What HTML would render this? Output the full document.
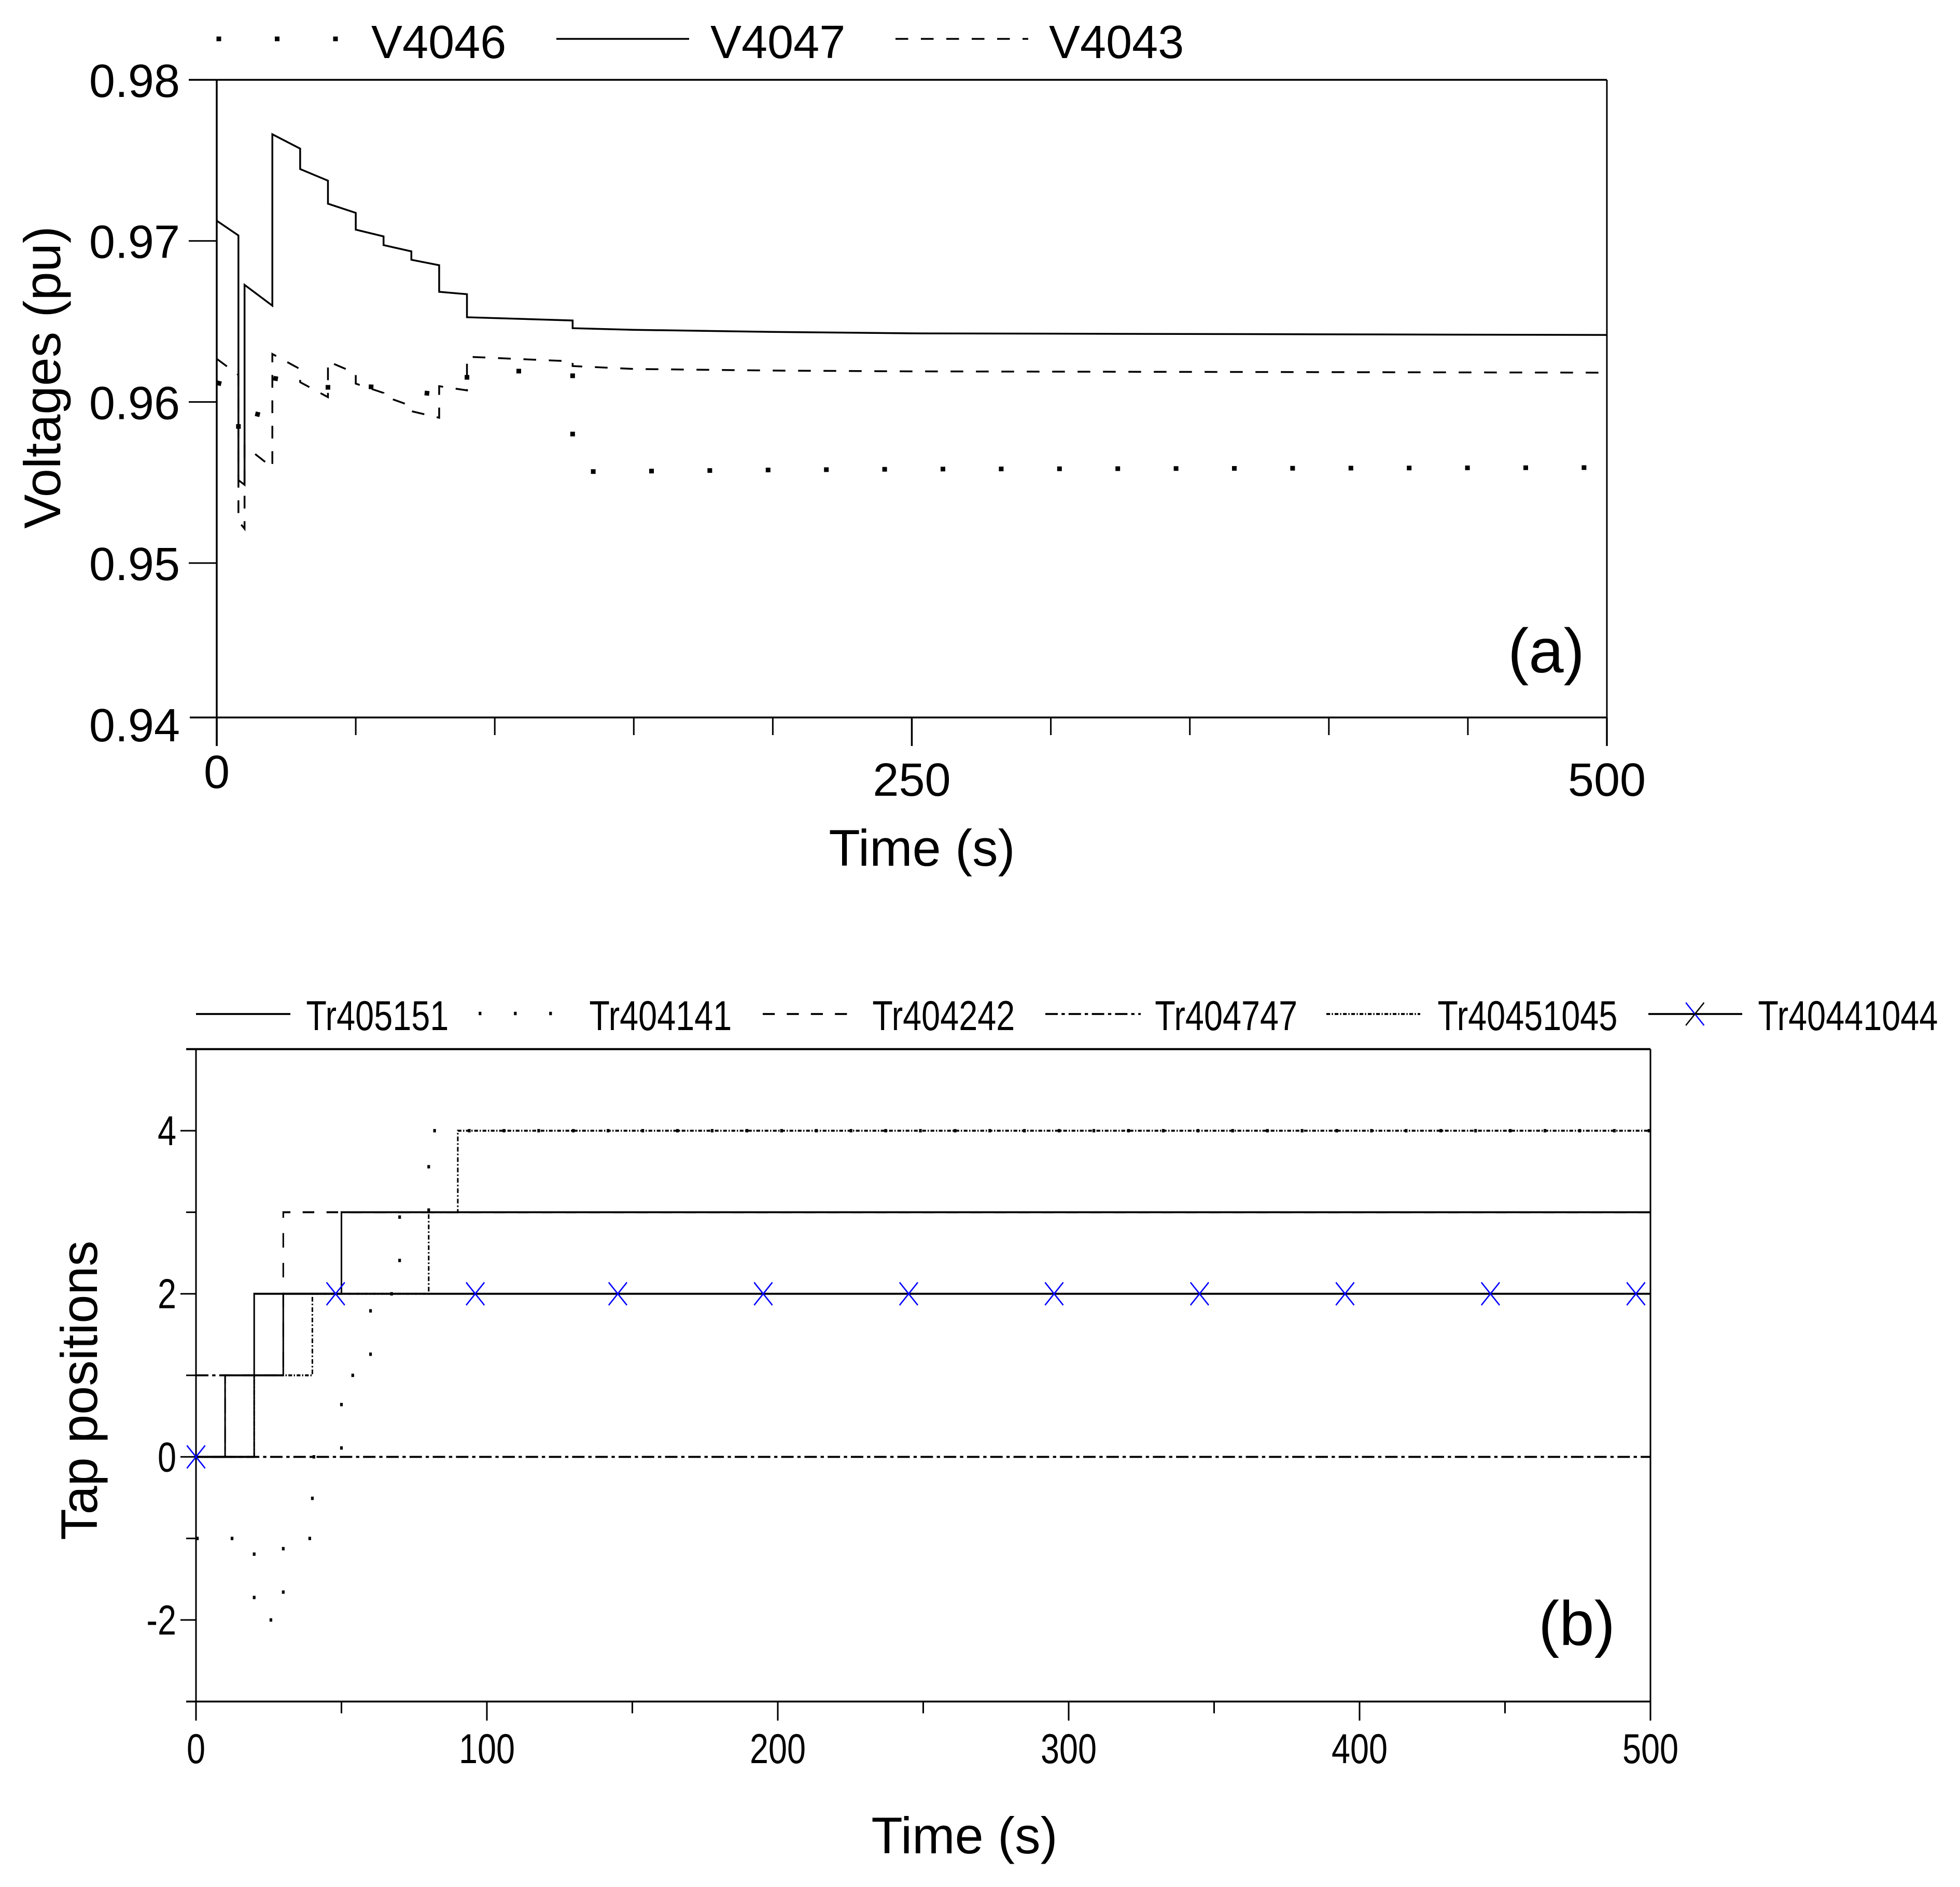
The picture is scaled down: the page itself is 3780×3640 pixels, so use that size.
<!DOCTYPE html>
<html lang="en">
<head>
<meta charset="utf-8">
<title>Voltages and tap positions</title>
<style>
html,body{margin:0;padding:0;background:#fff;}
svg{display:block;}
text{font-family:"Liberation Sans",Arial,sans-serif;fill:#000;}
</style>
</head>
<body>
<svg id="figure" xmlns="http://www.w3.org/2000/svg" width="3780" height="3640" viewBox="0 0 3780 3640">
  <rect x="0" y="0" width="3780" height="3640" fill="#fff"/>

  <g id="panelA">
    <g>
      <line x1="417.5" y1="75" x2="652" y2="75" stroke="#000" stroke-width="9" stroke-dasharray="9 103.5"/>
      <text x="716" y="112" font-size="90">V4046</text>
      <line x1="1073" y1="75" x2="1329" y2="75" stroke="#000" stroke-width="3.5"/>
      <text x="1370" y="112" font-size="90">V4047</text>
      <line x1="1727" y1="75" x2="1983" y2="75" stroke="#000" stroke-width="3.5" stroke-dasharray="24.5 24.5"/>
      <text x="2023" y="112" font-size="90">V4043</text>
    </g>
    <text x="1778" y="1670" font-size="99" text-anchor="middle">Time (s)</text>
    <text transform="translate(116,728) rotate(-90)" font-size="99" text-anchor="middle">Voltages (pu)</text>
    <text x="2908" y="1297" font-size="121">(a)</text>
  </g>

  <g id="panelB">
    <g id="panelBScaled" transform="scale(0.8,1)">
      <g>
        <line x1="472.5" y1="1956" x2="700" y2="1956" stroke="#000" stroke-width="3.8"/>
        <text x="738" y="1987" font-size="81">Tr405151</text>
        <line x1="1154" y1="1955" x2="1335" y2="1955" stroke="#000" stroke-width="6.5" stroke-dasharray="6.5 78.5"/>
        <text x="1420.5" y="1987" font-size="81">Tr404141</text>
        <line x1="1838.75" y1="1956" x2="2065" y2="1956" stroke="#000" stroke-width="3.8" stroke-dasharray="29 29"/>
        <text x="2103" y="1987" font-size="81">Tr404242</text>
        <line x1="2520" y1="1956" x2="2750" y2="1956" stroke="#000" stroke-width="3.8" stroke-dasharray="30 9 8 9"/>
        <text x="2784" y="1987" font-size="81">Tr404747</text>
        <line x1="3197.5" y1="1956" x2="3423.75" y2="1956" stroke="#000" stroke-width="3.8" stroke-dasharray="9 4 3 4"/>
        <text x="3465.5" y="1987" font-size="81">Tr40451045</text>
        <line x1="3973.75" y1="1956" x2="4200" y2="1956" stroke="#000" stroke-width="3.8"/>
        <line x1="4064" y1="1934" x2="4108" y2="1978" stroke="#00f" stroke-width="3"/>
        <line x1="4108" y1="1934" x2="4064" y2="1978" stroke="#000" stroke-width="3"/>
        <text x="4238" y="1987" font-size="81">Tr40441044</text>
      </g>
    </g>
    <text x="1860" y="3575" font-size="99" text-anchor="middle">Time (s)</text>
    <text transform="translate(187,2682) rotate(-90)" font-size="99" text-anchor="middle">Tap positions</text>
    <text x="2967" y="3173" font-size="121">(b)</text>
  </g>
</svg>

<script>
// ---- Panel (a) data ----
const voltageTimes = [0,7.8,7.8,10,10,20,20,30,30,40,40,50,50,60,60,70,70,80,80,90,90,128,128,150,200,250,500];
const v4047Values = [0.97125,0.97034,0.95515,0.95486,0.96727,0.96598,0.97662,0.97573,0.97446,0.97374,0.97231,0.97174,0.97070,0.97028,0.96974,0.96935,0.96883,0.96849,0.96684,0.96669,0.96526,0.96506,0.96458,0.96448,0.96435,0.96426,0.96416];
const v4043Values = [0.96268,0.96168,0.9526,0.95213,0.95728,0.95593,0.96298,0.96204,0.96123,0.96030,0.96252,0.96178,0.96114,0.96056,0.96037,0.95975,0.95943,0.95902,0.96098,0.96072,0.96281,0.96252,0.96223,0.96205,0.96195,0.9619,0.96182];
const v4046Values = [0.9612,0.96085,0.95782,0.9577,0.95943,0.95902,0.96149,0.9612,0.96108,0.96072,0.96156,0.96124,0.96098,0.96091,0.96079,0.96067,0.96065,0.96046,0.96075,0.96069,0.96193,0.9619,0.95567,0.9557,0.95578,0.95583,0.95593];
const voltageTickValues = [0.98,0.97,0.96,0.95,0.94];
const voltageTickLabels = ["0.98","0.97","0.96","0.95","0.94"];
const timeMajorTicksA = [0,250,500];
const timeMinorTicksA = [50,100,150,200,300,350,400,450];

// ---- Panel (b) data ----
const tr405151Times = [0,20,20,50,50,500];
const tr405151Values = [0,0,2,2,3,3];
const tr404141Times = [0,20,20,30,30,40,40,50,50,60,60,70,70,80,80,500];
const tr404141Values = [-1,-1,-2,-2,-1,-1,0,0,1,1,2,2,3,3,4,4];
const tr404242Times = [0,10,10,30,30,500];
const tr404242Values = [0,0,1,1,3,3];
const tr404747Times = [0,10,10,500];
const tr404747Values = [1,1,0,0];
const tr40451045Times = [0,20,20,40,40,80,80,90,90,500];
const tr40451045Values = [0,0,1,1,2,2,3,3,4,4];
const tr40441044Times = [0,10,10,30,30,500];
const tr40441044Values = [0,0,1,1,2,2];
const tr40441044MarkerTimes = [0,48,96,145,195,245,295,345,395,445,495];
const tr40441044MarkerValues = [0,2,2,2,2,2,2,2,2,2,2];
const tapMajorTicks = [4,2,0,-2];
const tapMajorLabels = ["4","2","0","-2"];
const tapMinorTicks = [5,3,1,-1,-3];
const timeMajorTicksB = [0,100,200,300,400,500];
const timeMinorTicksB = [50,150,250,350,450];

const NS = "http://www.w3.org/2000/svg";
const panelA = document.getElementById("panelA");
const panelB = document.getElementById("panelBScaled");

// axis functions
function xA(t){ return 418 + 5.362 * t; }
function yA(v){ return 154 + (0.98 - v) * 31070; }
const B_SCALE = 0.8;
function xB(t){ return (378 + 5.61 * t) / B_SCALE; }
function yB(p){ return 2810.3 - 157.3 * p; }

function addLine(parent, name, x1, y1, x2, y2, width, color){
  const el = document.createElementNS(NS, "line");
  
  
  el.setAttribute("x1", x1);
  el.setAttribute("y1", y1);
  el.setAttribute("x2", x2);
  el.setAttribute("y2", y2);
  el.setAttribute("stroke", color || "#000");
  el.setAttribute("stroke-width", width);
  parent.appendChild(el);
  return el;
}
function addText(parent, name, x, y, size, anchor, content){
  const el = document.createElementNS(NS, "text");
  
  
  el.setAttribute("x", x);
  el.setAttribute("y", y);
  el.setAttribute("font-size", size);
  el.setAttribute("text-anchor", anchor);
  el.textContent = content;
  parent.appendChild(el);
  return el;
}
function addSeries(parent, name, times, values, xf, yf, width, dash, dashOffset){
  const el = document.createElementNS(NS, "path");
  
  
  let d = "";
  for (let i = 0; i < times.length; i++) {
    d += (i ? "L" : "M") + xf(times[i]).toFixed(2) + " " + yf(values[i]).toFixed(2);
  }
  el.setAttribute("d", d);
  el.setAttribute("fill", "none");
  el.setAttribute("stroke", "#000");
  el.setAttribute("stroke-width", width);
  el.setAttribute("stroke-linejoin", "miter");
  if (dash) el.setAttribute("stroke-dasharray", dash);
  if (dashOffset) el.setAttribute("stroke-dashoffset", dashOffset);
  parent.appendChild(el);
  return el;
}

// ---- Panel (a) ----
const A_BOTTOM = 1384, A_RIGHT = xA(500);
addLine(panelA, "plot-a-top-border", 364, 154, A_RIGHT, 154, 3.5);
addLine(panelA, "plot-a-bottom-axis", 366, A_BOTTOM, A_RIGHT, A_BOTTOM, 3.5);
addLine(panelA, "plot-a-left-axis", 418, 154, 418, 1439, 3.5);
addLine(panelA, "plot-a-right-border", A_RIGHT, 154, A_RIGHT, 1439, 3);
voltageTickValues.forEach(function(v, i){
  const labelY = yA(v) + 33;
  if (v > 0.94 && v < 0.98) {
    addLine(panelA, "y-tick-a", 364, yA(v), 418, yA(v), 3);
  }
  addText(panelA, "y-tick-label-a", 347, labelY, 90, "end", voltageTickLabels[i]);
});
timeMajorTicksA.forEach(function(t){
  const labelY = t === 0 ? 1520 : 1535;
  addText(panelA, "x-tick-label-a", xA(t), labelY, 90, "middle", String(t));
  addLine(panelA, "x-major-tick-a", xA(t), A_BOTTOM, xA(t), 1439, 3.5);
});
timeMinorTicksA.forEach(function(t){
  addLine(panelA, "x-minor-tick-a", xA(t), A_BOTTOM, xA(t), 1418, 3);
});
addSeries(panelA, "series-v4046", voltageTimes, v4046Values, xA, yA, 9, "9 103.4");
addSeries(panelA, "series-v4047", voltageTimes, v4047Values, xA, yA, 3.5);
addSeries(panelA, "series-v4043", voltageTimes, v4043Values, xA, yA, 3.5, "24.5 24.5");

// ---- Panel (b) ----
const B_LEFT = xB(0), B_RIGHT = xB(500), B_TOP = yB(5), B_BOTTOM = yB(-3);
addLine(panelB, "plot-b-top-border", 359 / B_SCALE, B_TOP, B_RIGHT, B_TOP, 4);
addLine(panelB, "plot-b-bottom-axis", 359 / B_SCALE, B_BOTTOM, B_RIGHT, B_BOTTOM, 3.5);
addLine(panelB, "plot-b-left-axis", B_LEFT, B_TOP, B_LEFT, 3319, 3.8);
addLine(panelB, "plot-b-right-border", B_RIGHT, B_TOP, B_RIGHT, 3319, 3.8);
tapMajorTicks.forEach(function(p, i){
  addLine(panelB, "y-major-tick-b", 348 / B_SCALE, yB(p), B_LEFT, yB(p), 3);
  addText(panelB, "y-tick-label-b", 340 / B_SCALE, yB(p) + 28, 81, "end", tapMajorLabels[i]);
});
tapMinorTicks.forEach(function(p){
  addLine(panelB, "y-minor-tick-b", 359 / B_SCALE, yB(p), B_LEFT, yB(p), 3);
});
timeMajorTicksB.forEach(function(t){
  addLine(panelB, "x-major-tick-b", xB(t), B_BOTTOM, xB(t), 3319, 3.8);
  addText(panelB, "x-tick-label-b", xB(t), 3401, 81, "middle", String(t));
});
timeMinorTicksB.forEach(function(t){
  addLine(panelB, "x-minor-tick-b", xB(t), B_BOTTOM, xB(t), 3305, 3.8);
});
addSeries(panelB, "series-tr404141", tr404141Times, tr404141Values, xB, yB, 6.5, "6.5 77.15");
addSeries(panelB, "series-tr404242", tr404242Times, tr404242Values, xB, yB, 3.8, "28 29.5", 18.5);
addSeries(panelB, "series-tr404747", tr404747Times, tr404747Values, xB, yB, 3.8, "30 9 8 9");
addSeries(panelB, "series-tr40451045", tr40451045Times, tr40451045Values, xB, yB, 3.8, "9 4 3 4");
addSeries(panelB, "series-tr405151", tr405151Times, tr405151Values, xB, yB, 3.8);
addSeries(panelB, "series-tr40441044", tr40441044Times, tr40441044Values, xB, yB, 3.8);
tr40441044MarkerTimes.forEach(function(t, i){
  const cx = xB(t), cy = yB(tr40441044MarkerValues[i]);
  addLine(panelB, "tr40441044-marker-stroke-a", cx - 22, cy - 22, cx + 22, cy + 22, 3, "#00f");
  addLine(panelB, "tr40441044-marker-stroke-b", cx + 22, cy - 22, cx - 22, cy + 22, 3, "#00f");
});
</script>
</body>
</html>
